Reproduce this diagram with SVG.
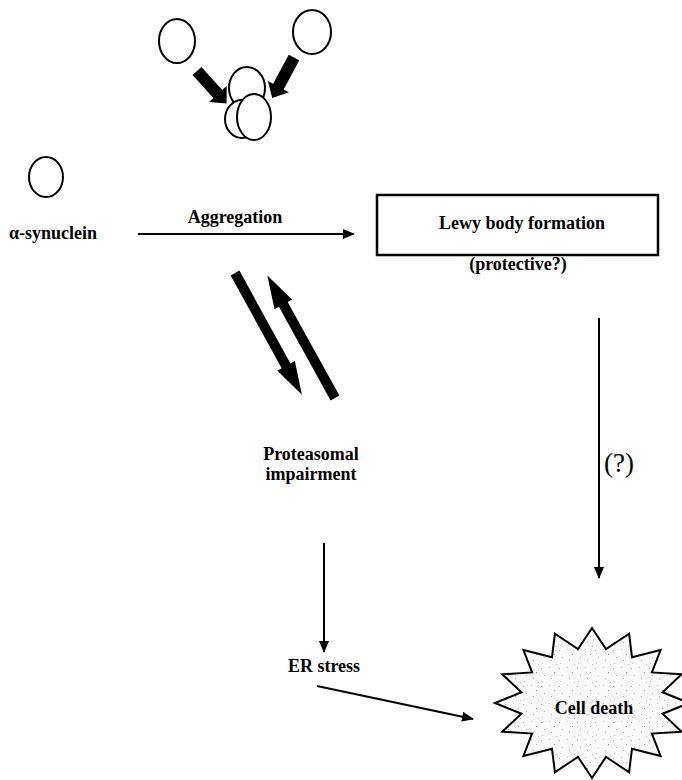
<svg xmlns="http://www.w3.org/2000/svg" width="682" height="780" viewBox="0 0 682 780">
<style>
  .lbl { font-family: "Liberation Serif", "Times New Roman", serif; font-weight: bold; font-size: 18px; fill: #000; }
  .q { font-family: "Liberation Serif", "Times New Roman", serif; font-size: 27px; fill: #000; }
  .ell { fill: #fff; stroke: #000; stroke-width: 2; }
  .conn { stroke: #000; stroke-width: 2; fill: none; }
  .fat { fill: #000; }
</style>
<defs>
  <marker id="ah" markerWidth="12" markerHeight="10" refX="11" refY="5" orient="auto" markerUnits="userSpaceOnUse">
    <path d="M0,0 L12,5 L0,10 Z" fill="#000"/>
  </marker>
  <pattern id="speck" width="18" height="18" patternUnits="userSpaceOnUse">
    <rect width="18" height="18" fill="#f9f9f9"/>
    <rect x="1" y="2" width="1" height="1" fill="#aaa"/>
    <rect x="9" y="1" width="1" height="1" fill="#ccc"/>
    <rect x="14" y="6" width="1" height="1" fill="#999"/>
    <rect x="4" y="9" width="1" height="1" fill="#bbb"/>
    <rect x="11" y="12" width="1" height="1" fill="#aaa"/>
    <rect x="2" y="15" width="1" height="1" fill="#ccc"/>
    <rect x="16" y="16" width="1" height="1" fill="#bbb"/>
  </pattern>
</defs>
<rect width="682" height="780" fill="#fff"/>

<g id="monomers-top">
  <ellipse class="ell" cx="177" cy="41" rx="18" ry="22"/>
  <ellipse class="ell" cx="312" cy="32" rx="19" ry="22"/>
</g>
<g id="aggregate">
  <ellipse class="ell" cx="247" cy="88" rx="18" ry="21"/>
  <ellipse class="ell" cx="242" cy="119" rx="17" ry="19"/>
  <ellipse class="ell" cx="254" cy="117" rx="17" ry="23"/>
</g>
<g id="fat-arrows-top">
  <polygon class="fat" transform="translate(197,71) rotate(47.8)" points="0,-6 31,-6 31,-12 44,0 31,12 31,6 0,6"/>
  <polygon class="fat" transform="translate(294,57.5) rotate(118.2)" points="0,-6 33,-6 33,-12 46,0 33,12 33,6 0,6"/>
</g>

<g id="alpha-synuclein">
  <ellipse class="ell" cx="46" cy="177" rx="17" ry="20"/>
  <text class="lbl" x="9" y="239">α-synuclein</text>
</g>

<g id="lewy-body">
  <rect x="377" y="195" width="281" height="60" fill="#fff" stroke="#000" stroke-width="2.5"/>
  <text class="lbl" x="522" y="229" text-anchor="middle">Lewy body formation</text>
  <text class="lbl" x="518" y="270" text-anchor="middle">(protective?)</text>
</g>

<g id="proteasomal">
  <text class="lbl" x="311" y="460" text-anchor="middle">Proteasomal</text>
  <text class="lbl" x="311" y="480" text-anchor="middle">impairment</text>
</g>

<g id="er-stress">
  <text class="lbl" x="324" y="672" text-anchor="middle">ER stress</text>
</g>

<g id="cell-death">
  <polygon fill="url(#speck)" stroke="#000" stroke-width="2" stroke-linejoin="miter"
    points="592,628 606,649.1 629.1,633.7 632,657.3 660.6,650 651.9,672.4 681.6,674.3 662.6,692.3 689,703 662.6,713.7 681.6,731.7 651.9,733.6 660.6,756 632,748.7 629.1,772.3 606,756.9 592,778 578,756.9 554.9,772.3 552,748.7 523.4,756 532.1,733.6 502.4,731.7 521.4,713.7 495,703 521.4,692.3 502.4,674.3 532.1,672.4 523.4,650 552,657.3 554.9,633.7 578,649.1"/>
  <text class="lbl" x="594" y="714" text-anchor="middle">Cell death</text>
</g>

<g id="connectors">
  <line class="conn" x1="138" y1="234" x2="354" y2="234" marker-end="url(#ah)"/>
  <text class="lbl" x="235" y="223" text-anchor="middle">Aggregation</text>
  <polygon class="fat" transform="translate(235,273) rotate(61.2)" points="0,-5 106,-5 106,-10 139,0 106,10 106,5 0,5"/>
  <polygon class="fat" transform="translate(335,398) rotate(-118.9)" points="0,-5 107,-5 107,-10 140,0 107,10 107,5 0,5"/>
  <line class="conn" x1="324" y1="543" x2="324" y2="652" marker-end="url(#ah)"/>
  <line class="conn" x1="599" y1="318" x2="599" y2="578" marker-end="url(#ah)"/>
  <text class="q" x="604" y="472">(?)</text>
  <line class="conn" x1="317" y1="686" x2="473" y2="719" marker-end="url(#ah)"/>
</g>
</svg>
